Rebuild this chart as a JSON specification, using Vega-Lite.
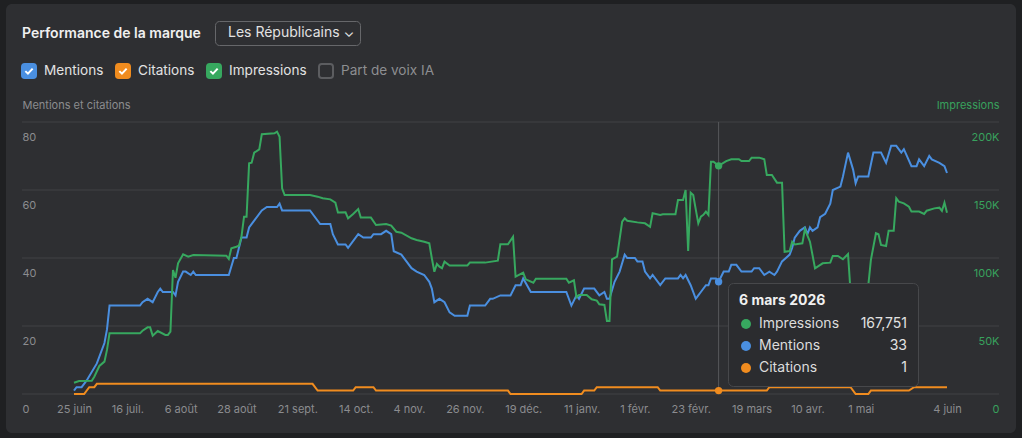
{
  "$schema": "https://vega.github.io/schema/vega-lite/v6.json",
  "width": 1010,
  "height": 429,
  "autosize": {"type": "none"},
  "padding": {"left": 6, "top": 4, "right": 6, "bottom": 5},
  "background": "#1f2022",
  "view": {"fill": "#2e2f32", "stroke": null, "cornerRadius": 6},
  "title": {"text": "Performance de la marque", "anchor": "start", "frame": "group", "orient": "top", "offset": 0, "dx": 16, "dy": 48, "baseline": "alphabetic", "font": "Inter", "fontSize": 14, "fontWeight": 600, "color": "#f0f0f0"},
  "config": {
    "font": "Inter",
    "view": {"fill": "#2e2f32", "stroke": null, "cornerRadius": 6},
    "axis": {"labelFont": "Inter", "titleFont": "Inter"},
    "legend": {"labelFont": "Inter", "titleFont": "Inter"}
  },
  "datasets": {
    "mc": [
      {"s":"Mentions","d":"2025-06-25","v":1},{"s":"Mentions","d":"2025-06-26","v":2},{"s":"Mentions","d":"2025-06-28","v":2},{"s":"Mentions","d":"2025-06-30","v":4},{"s":"Mentions","d":"2025-07-04","v":9},{"s":"Mentions","d":"2025-07-07","v":15},{"s":"Mentions","d":"2025-07-08","v":19},{"s":"Mentions","d":"2025-07-09","v":26},{"s":"Mentions","d":"2025-07-21","v":26},{"s":"Mentions","d":"2025-07-22","v":27},{"s":"Mentions","d":"2025-07-24","v":28},{"s":"Mentions","d":"2025-07-26","v":27},{"s":"Mentions","d":"2025-07-28","v":30},{"s":"Mentions","d":"2025-07-29","v":31},{"s":"Mentions","d":"2025-07-30","v":30},{"s":"Mentions","d":"2025-08-03","v":30},{"s":"Mentions","d":"2025-08-04","v":29},{"s":"Mentions","d":"2025-08-05","v":33},{"s":"Mentions","d":"2025-08-07","v":36},{"s":"Mentions","d":"2025-08-08","v":36},{"s":"Mentions","d":"2025-08-10","v":35},{"s":"Mentions","d":"2025-08-11","v":36},{"s":"Mentions","d":"2025-08-12","v":35},{"s":"Mentions","d":"2025-08-25","v":35},{"s":"Mentions","d":"2025-08-27","v":40},{"s":"Mentions","d":"2025-08-28","v":40},{"s":"Mentions","d":"2025-08-30","v":46},{"s":"Mentions","d":"2025-09-01","v":46},{"s":"Mentions","d":"2025-09-02","v":49},{"s":"Mentions","d":"2025-09-04","v":51},{"s":"Mentions","d":"2025-09-07","v":54},{"s":"Mentions","d":"2025-09-09","v":55},{"s":"Mentions","d":"2025-09-13","v":55},{"s":"Mentions","d":"2025-09-14","v":56},{"s":"Mentions","d":"2025-09-15","v":54},{"s":"Mentions","d":"2025-09-26","v":54},{"s":"Mentions","d":"2025-09-30","v":50},{"s":"Mentions","d":"2025-10-04","v":50},{"s":"Mentions","d":"2025-10-05","v":47},{"s":"Mentions","d":"2025-10-07","v":44},{"s":"Mentions","d":"2025-10-10","v":44},{"s":"Mentions","d":"2025-10-11","v":43},{"s":"Mentions","d":"2025-10-15","v":47},{"s":"Mentions","d":"2025-10-17","v":46},{"s":"Mentions","d":"2025-10-20","v":46},{"s":"Mentions","d":"2025-10-21","v":47},{"s":"Mentions","d":"2025-10-24","v":47},{"s":"Mentions","d":"2025-10-26","v":48},{"s":"Mentions","d":"2025-10-28","v":47},{"s":"Mentions","d":"2025-10-29","v":42},{"s":"Mentions","d":"2025-11-01","v":41},{"s":"Mentions","d":"2025-11-05","v":37},{"s":"Mentions","d":"2025-11-07","v":36},{"s":"Mentions","d":"2025-11-10","v":35},{"s":"Mentions","d":"2025-11-12","v":33},{"s":"Mentions","d":"2025-11-13","v":31},{"s":"Mentions","d":"2025-11-14","v":27},{"s":"Mentions","d":"2025-11-16","v":28},{"s":"Mentions","d":"2025-11-18","v":27},{"s":"Mentions","d":"2025-11-20","v":24},{"s":"Mentions","d":"2025-11-22","v":23},{"s":"Mentions","d":"2025-11-27","v":23},{"s":"Mentions","d":"2025-11-28","v":26},{"s":"Mentions","d":"2025-12-04","v":26},{"s":"Mentions","d":"2025-12-06","v":28},{"s":"Mentions","d":"2025-12-07","v":28},{"s":"Mentions","d":"2025-12-10","v":29},{"s":"Mentions","d":"2025-12-14","v":29},{"s":"Mentions","d":"2025-12-16","v":32},{"s":"Mentions","d":"2025-12-18","v":32},{"s":"Mentions","d":"2025-12-19","v":34},{"s":"Mentions","d":"2025-12-22","v":30},{"s":"Mentions","d":"2026-01-05","v":30},{"s":"Mentions","d":"2026-01-07","v":26},{"s":"Mentions","d":"2026-01-09","v":29},{"s":"Mentions","d":"2026-01-10","v":28},{"s":"Mentions","d":"2026-01-12","v":31},{"s":"Mentions","d":"2026-01-16","v":31},{"s":"Mentions","d":"2026-01-18","v":29},{"s":"Mentions","d":"2026-01-20","v":30},{"s":"Mentions","d":"2026-01-21","v":28},{"s":"Mentions","d":"2026-01-22","v":28},{"s":"Mentions","d":"2026-01-24","v":33},{"s":"Mentions","d":"2026-01-26","v":36},{"s":"Mentions","d":"2026-01-28","v":41},{"s":"Mentions","d":"2026-01-29","v":40},{"s":"Mentions","d":"2026-02-01","v":40},{"s":"Mentions","d":"2026-02-02","v":39},{"s":"Mentions","d":"2026-02-04","v":39},{"s":"Mentions","d":"2026-02-05","v":36},{"s":"Mentions","d":"2026-02-07","v":34},{"s":"Mentions","d":"2026-02-08","v":35},{"s":"Mentions","d":"2026-02-11","v":32},{"s":"Mentions","d":"2026-02-13","v":34},{"s":"Mentions","d":"2026-02-18","v":34},{"s":"Mentions","d":"2026-02-19","v":35},{"s":"Mentions","d":"2026-02-20","v":34},{"s":"Mentions","d":"2026-02-21","v":35},{"s":"Mentions","d":"2026-02-23","v":32},{"s":"Mentions","d":"2026-02-25","v":28},{"s":"Mentions","d":"2026-02-26","v":29},{"s":"Mentions","d":"2026-02-27","v":30},{"s":"Mentions","d":"2026-03-01","v":32},{"s":"Mentions","d":"2026-03-02","v":32},{"s":"Mentions","d":"2026-03-03","v":34},{"s":"Mentions","d":"2026-03-05","v":34},{"s":"Mentions","d":"2026-03-06","v":33},{"s":"Mentions","d":"2026-03-08","v":36},{"s":"Mentions","d":"2026-03-10","v":36},{"s":"Mentions","d":"2026-03-11","v":38},{"s":"Mentions","d":"2026-03-13","v":38},{"s":"Mentions","d":"2026-03-15","v":36},{"s":"Mentions","d":"2026-03-19","v":36},{"s":"Mentions","d":"2026-03-20","v":37},{"s":"Mentions","d":"2026-03-22","v":37},{"s":"Mentions","d":"2026-03-24","v":35},{"s":"Mentions","d":"2026-03-26","v":36},{"s":"Mentions","d":"2026-03-28","v":35},{"s":"Mentions","d":"2026-03-29","v":36},{"s":"Mentions","d":"2026-03-31","v":39},{"s":"Mentions","d":"2026-04-03","v":41},{"s":"Mentions","d":"2026-04-04","v":43},{"s":"Mentions","d":"2026-04-05","v":46},{"s":"Mentions","d":"2026-04-07","v":48},{"s":"Mentions","d":"2026-04-09","v":49},{"s":"Mentions","d":"2026-04-10","v":47},{"s":"Mentions","d":"2026-04-11","v":49},{"s":"Mentions","d":"2026-04-12","v":48},{"s":"Mentions","d":"2026-04-14","v":49},{"s":"Mentions","d":"2026-04-15","v":52},{"s":"Mentions","d":"2026-04-17","v":53},{"s":"Mentions","d":"2026-04-19","v":56},{"s":"Mentions","d":"2026-04-20","v":60},{"s":"Mentions","d":"2026-04-23","v":61},{"s":"Mentions","d":"2026-04-24","v":64},{"s":"Mentions","d":"2026-04-26","v":71},{"s":"Mentions","d":"2026-04-28","v":66},{"s":"Mentions","d":"2026-04-29","v":62},{"s":"Mentions","d":"2026-04-30","v":64},{"s":"Mentions","d":"2026-05-04","v":64},{"s":"Mentions","d":"2026-05-06","v":71},{"s":"Mentions","d":"2026-05-09","v":71},{"s":"Mentions","d":"2026-05-11","v":68},{"s":"Mentions","d":"2026-05-13","v":73},{"s":"Mentions","d":"2026-05-15","v":73},{"s":"Mentions","d":"2026-05-17","v":71},{"s":"Mentions","d":"2026-05-18","v":72},{"s":"Mentions","d":"2026-05-21","v":67},{"s":"Mentions","d":"2026-05-23","v":67},{"s":"Mentions","d":"2026-05-24","v":69},{"s":"Mentions","d":"2026-05-26","v":67},{"s":"Mentions","d":"2026-05-28","v":70},{"s":"Mentions","d":"2026-05-29","v":69},{"s":"Mentions","d":"2026-06-01","v":68},{"s":"Mentions","d":"2026-06-03","v":67},{"s":"Mentions","d":"2026-06-04","v":65},
      {"s":"Citations","d":"2025-06-25","v":0},{"s":"Citations","d":"2025-06-29","v":0},{"s":"Citations","d":"2025-07-01","v":2},{"s":"Citations","d":"2025-07-03","v":2},{"s":"Citations","d":"2025-07-04","v":3},{"s":"Citations","d":"2025-09-27","v":3},{"s":"Citations","d":"2025-09-29","v":1},{"s":"Citations","d":"2025-10-13","v":1},{"s":"Citations","d":"2025-10-14","v":2},{"s":"Citations","d":"2025-10-21","v":2},{"s":"Citations","d":"2025-10-22","v":1},{"s":"Citations","d":"2025-12-13","v":1},{"s":"Citations","d":"2025-12-14","v":0},{"s":"Citations","d":"2026-01-11","v":0},{"s":"Citations","d":"2026-01-12","v":1},{"s":"Citations","d":"2026-01-16","v":1},{"s":"Citations","d":"2026-01-17","v":2},{"s":"Citations","d":"2026-02-10","v":2},{"s":"Citations","d":"2026-02-11","v":1},{"s":"Citations","d":"2026-03-25","v":1},{"s":"Citations","d":"2026-03-26","v":2},{"s":"Citations","d":"2026-04-27","v":2},{"s":"Citations","d":"2026-04-29","v":0},{"s":"Citations","d":"2026-05-04","v":0},{"s":"Citations","d":"2026-05-05","v":1},{"s":"Citations","d":"2026-05-20","v":1},{"s":"Citations","d":"2026-05-22","v":2},{"s":"Citations","d":"2026-06-04","v":2}
    ],
    "imp": [
      {"d":"2025-06-25","v":8300},{"d":"2025-06-27","v":9600},{"d":"2025-07-02","v":9700},{"d":"2025-07-03","v":12700},{"d":"2025-07-05","v":20600},{"d":"2025-07-07","v":23800},{"d":"2025-07-08","v":32400},{"d":"2025-07-09","v":44600},{"d":"2025-07-21","v":44600},{"d":"2025-07-22","v":46500},{"d":"2025-07-24","v":49000},{"d":"2025-07-25","v":49000},{"d":"2025-07-26","v":42900},{"d":"2025-07-28","v":46300},{"d":"2025-07-31","v":43400},{"d":"2025-08-01","v":43400},{"d":"2025-08-02","v":45800},{"d":"2025-08-03","v":91200},{"d":"2025-08-04","v":85500},{"d":"2025-08-05","v":96100},{"d":"2025-08-07","v":102700},{"d":"2025-08-09","v":101000},{"d":"2025-08-11","v":102200},{"d":"2025-08-24","v":101700},{"d":"2025-08-25","v":99300},{"d":"2025-08-26","v":107100},{"d":"2025-08-28","v":108300},{"d":"2025-08-29","v":109000},{"d":"2025-08-30","v":115700},{"d":"2025-08-31","v":130400},{"d":"2025-09-01","v":130400},{"d":"2025-09-02","v":169600},{"d":"2025-09-03","v":170100},{"d":"2025-09-04","v":177400},{"d":"2025-09-06","v":179900},{"d":"2025-09-07","v":191000},{"d":"2025-09-12","v":191700},{"d":"2025-09-13","v":192900},{"d":"2025-09-14","v":189200},{"d":"2025-09-15","v":151200},{"d":"2025-09-16","v":146300},{"d":"2025-09-26","v":146300},{"d":"2025-09-29","v":145100},{"d":"2025-10-01","v":143900},{"d":"2025-10-04","v":143100},{"d":"2025-10-06","v":140700},{"d":"2025-10-07","v":133500},{"d":"2025-10-10","v":133600},{"d":"2025-10-11","v":129200},{"d":"2025-10-13","v":132400},{"d":"2025-10-15","v":136000},{"d":"2025-10-16","v":129700},{"d":"2025-10-20","v":129700},{"d":"2025-10-22","v":124300},{"d":"2025-10-26","v":125000},{"d":"2025-10-28","v":123800},{"d":"2025-10-30","v":119300},{"d":"2025-11-01","v":118600},{"d":"2025-11-05","v":114500},{"d":"2025-11-07","v":113300},{"d":"2025-11-10","v":112000},{"d":"2025-11-12","v":110800},{"d":"2025-11-13","v":99800},{"d":"2025-11-14","v":89900},{"d":"2025-11-15","v":95600},{"d":"2025-11-16","v":93600},{"d":"2025-11-17","v":92500},{"d":"2025-11-18","v":97300},{"d":"2025-11-20","v":94500},{"d":"2025-11-27","v":94500},{"d":"2025-11-28","v":96600},{"d":"2025-12-04","v":96600},{"d":"2025-12-09","v":98000},{"d":"2025-12-10","v":110100},{"d":"2025-12-13","v":110100},{"d":"2025-12-15","v":115700},{"d":"2025-12-16","v":86300},{"d":"2025-12-19","v":89200},{"d":"2025-12-20","v":84300},{"d":"2025-12-23","v":81800},{"d":"2025-12-24","v":84800},{"d":"2026-01-05","v":84800},{"d":"2026-01-06","v":81800},{"d":"2026-01-08","v":83600},{"d":"2026-01-09","v":71100},{"d":"2026-01-10","v":72800},{"d":"2026-01-13","v":72800},{"d":"2026-01-15","v":69600},{"d":"2026-01-17","v":68700},{"d":"2026-01-18","v":66000},{"d":"2026-01-20","v":65500},{"d":"2026-01-21","v":53700},{"d":"2026-01-22","v":53700},{"d":"2026-01-23","v":99000},{"d":"2026-01-25","v":101000},{"d":"2026-01-27","v":126700},{"d":"2026-01-28","v":129200},{"d":"2026-01-29","v":127400},{"d":"2026-02-02","v":126200},{"d":"2026-02-05","v":125500},{"d":"2026-02-07","v":123000},{"d":"2026-02-08","v":132900},{"d":"2026-02-11","v":131700},{"d":"2026-02-12","v":132200},{"d":"2026-02-17","v":132200},{"d":"2026-02-18","v":142700},{"d":"2026-02-20","v":142700},{"d":"2026-02-21","v":150000},{"d":"2026-02-22","v":105100},{"d":"2026-02-23","v":148000},{"d":"2026-02-24","v":146300},{"d":"2026-02-25","v":135800},{"d":"2026-02-26","v":125500},{"d":"2026-02-27","v":130400},{"d":"2026-02-28","v":131700},{"d":"2026-03-01","v":134100},{"d":"2026-03-02","v":131700},{"d":"2026-03-03","v":170800},{"d":"2026-03-04","v":170800},{"d":"2026-03-06","v":167751},{"d":"2026-03-09","v":171300},{"d":"2026-03-11","v":172600},{"d":"2026-03-14","v":172600},{"d":"2026-03-15","v":171300},{"d":"2026-03-18","v":171300},{"d":"2026-03-19","v":173800},{"d":"2026-03-22","v":173800},{"d":"2026-03-24","v":172600},{"d":"2026-03-25","v":161000},{"d":"2026-03-27","v":161000},{"d":"2026-03-29","v":155400},{"d":"2026-03-31","v":155400},{"d":"2026-04-01","v":104600},{"d":"2026-04-03","v":105100},{"d":"2026-04-04","v":112000},{"d":"2026-04-05","v":110000},{"d":"2026-04-08","v":110800},{"d":"2026-04-09","v":121100},{"d":"2026-04-11","v":112000},{"d":"2026-04-13","v":92400},{"d":"2026-04-16","v":96100},{"d":"2026-04-19","v":96600},{"d":"2026-04-20","v":101500},{"d":"2026-04-22","v":101500},{"d":"2026-04-24","v":99100},{"d":"2026-04-26","v":102900},{"d":"2026-04-27","v":75000},{"d":"2026-04-28","v":48000},{"d":"2026-05-02","v":45000},{"d":"2026-05-03","v":60000},{"d":"2026-05-04","v":80000},{"d":"2026-05-05","v":98500},{"d":"2026-05-07","v":118200},{"d":"2026-05-08","v":117400},{"d":"2026-05-09","v":109600},{"d":"2026-05-11","v":108800},{"d":"2026-05-12","v":120100},{"d":"2026-05-14","v":120100},{"d":"2026-05-15","v":143900},{"d":"2026-05-16","v":141400},{"d":"2026-05-18","v":140200},{"d":"2026-05-20","v":137700},{"d":"2026-05-21","v":134100},{"d":"2026-05-24","v":134100},{"d":"2026-05-26","v":132400},{"d":"2026-05-27","v":134800},{"d":"2026-05-30","v":136500},{"d":"2026-06-01","v":137000},{"d":"2026-06-02","v":134600},{"d":"2026-06-03","v":140700},{"d":"2026-06-04","v":133300}
    ]
  },
  "layer": [
    {
      "data": {"values": [{"g": 0}, {"g": 20}, {"g": 40}, {"g": 60}, {"g": 80}]},
      "mark": {"type": "rule", "color": "#3b3c3f", "strokeWidth": 1.5},
      "encoding": {
        "y": {"field": "g", "type": "quantitative", "scale": {"domain": [0, 80], "range": [390, 118], "nice": false}, "axis": null},
        "x": {"datum": {"year": 2025, "month": 6, "date": 4, "hours": 12, "utc": true}, "type": "temporal"},
        "x2": {"datum": {"year": 2026, "month": 6, "date": 24, "hours": 12, "utc": true}}
      }
    },
    {
      "data": {"values": [{"d": "2026-03-06"}]},
      "mark": {"type": "rule", "color": "#57585b", "strokeWidth": 1},
      "encoding": {
        "x": {"field": "d", "type": "temporal"},
        "y": {"datum": 0, "type": "quantitative", "scale": {"domain": [0, 80], "range": [390, 118], "nice": false}, "axis": null},
        "y2": {"datum": 80}
      }
    },
    {
      "data": {"name": "mc"},
      "mark": {"type": "line", "strokeWidth": 2},
      "encoding": {
        "x": {
          "field": "d", "type": "temporal",
          "scale": {"domain": [{"year": 2025, "month": 6, "date": 25, "utc": true}, {"year": 2026, "month": 6, "date": 4, "utc": true}], "range": [68, 941]},
          "axis": {
            "orient": "bottom", "offset": -39, "domain": false, "ticks": false, "tickSize": 0, "grid": false, "title": null,
            "values": [1750809600000, 1752624000000, 1754438400000, 1756339200000, 1758412800000, 1760400000000, 1762214400000, 1764115200000, 1766102400000, 1768089600000, 1769904000000, 1771804800000, 1773878400000, 1775779200000, 1777593600000, 1780531200000],
            "labelExpr": "utcdate(datum.value) + ' ' + ['janv.','févr.','mars','avr.','mai','juin','juil.','août','sept.','oct.','nov.','déc.'][utcmonth(datum.value)]",
            "labelPadding": 18.5, "labelBaseline": "alphabetic", "labelFontSize": 11, "labelColor": "#8b8c8f", "labelOverlap": false, "labelFlush": false, "labelBound": false
          }
        },
        "y": {
          "field": "v", "type": "quantitative",
          "scale": {"domain": [0, 80], "range": [390, 118], "nice": false},
          "axis": {
            "orient": "left", "values": [0, 20, 40, 60, 80], "domain": false, "ticks": false, "tickSize": 0, "grid": false,
            "labelAlign": "left", "labelPadding": -16, "labelOffset": 18.7, "labelBaseline": "alphabetic", "labelFontSize": 11, "labelColor": "#8b8c8f",
            "title": "Mentions et citations", "titleAngle": 0, "titleX": 16, "titleY": 104.5, "titleAlign": "left", "titleBaseline": "alphabetic", "titleFontSize": 11, "titleFontWeight": "normal", "titleColor": "#8b8c8f"
          }
        },
        "color": {
          "field": "s", "type": "nominal",
          "scale": {"domain": ["Mentions", "Citations", "Impressions", "Part de voix IA"], "range": ["#4a8fe0", "#f08c1f", "#37a85f", "#5c5d60"]},
          "legend": {
            "orient": "none", "legendX": 15, "legendY": 59, "direction": "horizontal", "title": null,
            "symbolType": "M-1,-0.6A0.4,0.4,0,0,1,-0.6,-1L0.6,-1A0.4,0.4,0,0,1,1,-0.6L1,0.6A0.4,0.4,0,0,1,0.6,1L-0.6,1A0.4,0.4,0,0,1,-1,0.6Z",
            "symbolSize": 196, "symbolStrokeWidth": 2, "symbolOpacity": 1,
            "symbolFillColor": {"expr": "datum.value === 'Part de voix IA' ? '#2e2f32' : scale('color', datum.value)"},
            "labelFontSize": 13.6, "labelColor": {"expr": "datum.value === 'Part de voix IA' ? '#8d8e91' : '#e2e2e2'"},
            "labelOffset": 7, "columnPadding": 8, "padding": 0, "zindex": 1
          }
        }
      }
    },
    {
      "data": {"name": "imp"},
      "mark": {"type": "line", "strokeWidth": 2, "color": "#37a85f"},
      "encoding": {
        "x": {"field": "d", "type": "temporal"},
        "y": {
          "field": "v", "type": "quantitative",
          "scale": {"domain": [0, 200000], "range": [390, 118], "nice": false},
          "axis": {
            "orient": "right", "values": [0, 50000, 100000, 150000, 200000], "domain": false, "ticks": false, "tickSize": 0, "grid": false,
            "labelExpr": "datum.value === 0 ? '0' : (datum.value / 1000) + 'K'",
            "labelAlign": "right", "labelPadding": -17, "labelOffset": 18.7, "labelBaseline": "alphabetic", "labelFontSize": 11, "labelColor": "#38a15d",
            "title": "Impressions", "titleAngle": 0, "titleX": -17, "titleY": 104.5, "titleAlign": "right", "titleBaseline": "alphabetic", "titleFontSize": 11, "titleFontWeight": "normal", "titleColor": "#38a15d"
          }
        }
      }
    },
    {
      "data": {"values": [
        {"k": "M", "d": "2026-03-06", "v": 33},
        {"k": "C", "d": "2026-03-06", "v": 1},
        {"k": "I", "d": "2026-03-06", "v": 67}
      ]},
      "mark": {"type": "point", "opacity": 0, "color": "#ffffff", "strokeWidth": 2},
      "encoding": {
        "x": {"field": "d", "type": "temporal"},
        "y": {"field": "v", "type": "quantitative", "scale": {"domain": [0, 80], "range": [390, 118], "nice": false}, "axis": null},
        "shape": {
          "field": "k", "type": "nominal",
          "scale": {"domain": ["M", "C", "I"], "range": ["M-1,-1M1,1M-0.52,0.02L-0.15,0.38L0.52,-0.34", "M-1,-1M1,1M-0.52,0.02L-0.15,0.38L0.52,-0.34", "M-1,-1M1,1M-0.52,0.02L-0.15,0.38L0.52,-0.34"]},
          "legend": {
            "orient": "none", "legendX": 15, "legendY": 59, "direction": "horizontal", "title": null,
            "symbolSize": 196, "symbolStrokeWidth": 2, "symbolOpacity": 1, "symbolFillColor": "transparent", "symbolStrokeColor": "#ffffff",
            "labelFontSize": 13.6, "labelOffset": 7, "columnPadding": 8, "padding": 0, "zindex": 2, "labelOpacity": 0,
            "labelExpr": "datum.label === 'M' ? 'Mentions' : datum.label === 'C' ? 'Citations' : 'Impressions'"
          }
        }
      }
    },
    {
      "data": {"values": [
        {"s": "Mentions", "d": "2026-03-06", "v": 33, "t": "33", "dd": "Les Républicains ⌄\u00a0\u00a0"},
        {"s": "Citations", "d": "2026-03-06", "v": 1, "t": "1", "dd": "Les Républicains ⌄\u00a0\u00a0"}
      ]},
      "mark": {"type": "point", "filled": true, "opacity": 1, "strokeWidth": 0, "shape": "circle"},
      "encoding": {
        "x": {"field": "d", "type": "temporal"},
        "y": {"field": "v", "type": "quantitative", "scale": {"domain": [0, 80], "range": [390, 118], "nice": false}, "axis": null},
        "fill": {
          "field": "s", "type": "nominal",
          "scale": {"domain": ["Impressions", "Mentions", "Citations"], "range": ["#37a85f", "#4a8fe0", "#f08c1f"]},
          "legend": {
            "orient": "none", "legendX": 722, "legendY": 279, "direction": "vertical",
            "title": "6 mars 2026", "titleFontSize": 14, "titleFontWeight": 700, "titleColor": "#f0f0f0", "titlePadding": 9,
            "padding": 11, "symbolType": "circle", "symbolSize": 100, "symbolStrokeWidth": 0, "symbolOpacity": 1,
            "labelFontSize": 14, "labelColor": "#dcdcdc", "labelOffset": 6, "rowPadding": 8, "zindex": 3
          }
        },
        "strokeDash": {
          "field": "t", "type": "nominal",
          "scale": {"domain": ["167,751", "33", "1"], "range": [[1, 0], [1, 0], [1, 0]]},
          "legend": {
            "orient": "none", "legendX": 722, "legendY": 279, "direction": "vertical",
            "title": "\u00a0", "titleFontSize": 14, "titleFontWeight": 700, "titleColor": "#f0f0f0", "titlePadding": 9,
            "padding": 11, "strokeColor": "#47484b", "fillColor": "#2b2c2f", "cornerRadius": 5,
            "symbolType": "circle", "symbolSize": 100, "symbolStrokeWidth": 0, "symbolOpacity": 0,
            "labelFontSize": 14, "labelColor": "#e2e2e2", "labelAlign": "right", "labelOffset": 154, "rowPadding": 8, "zindex": 2
          }
        },
        "size": {
          "field": "dd", "type": "ordinal",
          "scale": {"domain": ["Les Républicains ⌄\u00a0\u00a0"], "range": [55, 55]},
          "legend": {
            "orient": "none", "legendX": 209, "legendY": 17, "title": null, "padding": 5, "strokeColor": "#66676a", "cornerRadius": 4,
            "symbolSize": 1, "symbolStrokeWidth": 0, "symbolOpacity": 0, "labelFontSize": 14, "labelColor": "#e2e2e2", "labelOffset": -6, "zindex": 1
          }
        }
      }
    },
    {
      "data": {"values": [
        {"s": "Impressions", "d": "2026-03-06", "v": 167751, "t": "167,751", "dd": "Les Républicains ⌄\u00a0\u00a0"}
      ]},
      "mark": {"type": "point", "filled": true, "opacity": 1, "strokeWidth": 0, "shape": "circle"},
      "encoding": {
        "x": {"field": "d", "type": "temporal"},
        "y": {"field": "v", "type": "quantitative", "scale": {"domain": [0, 200000], "range": [390, 118], "nice": false}, "axis": null},
        "fill": {"field": "s", "type": "nominal", "legend": null},
        "strokeDash": {"field": "t", "type": "nominal", "legend": null},
        "size": {"field": "dd", "type": "ordinal", "legend": null}
      }
    }
  ],
  "resolve": {"scale": {"y": "independent"}}
}
